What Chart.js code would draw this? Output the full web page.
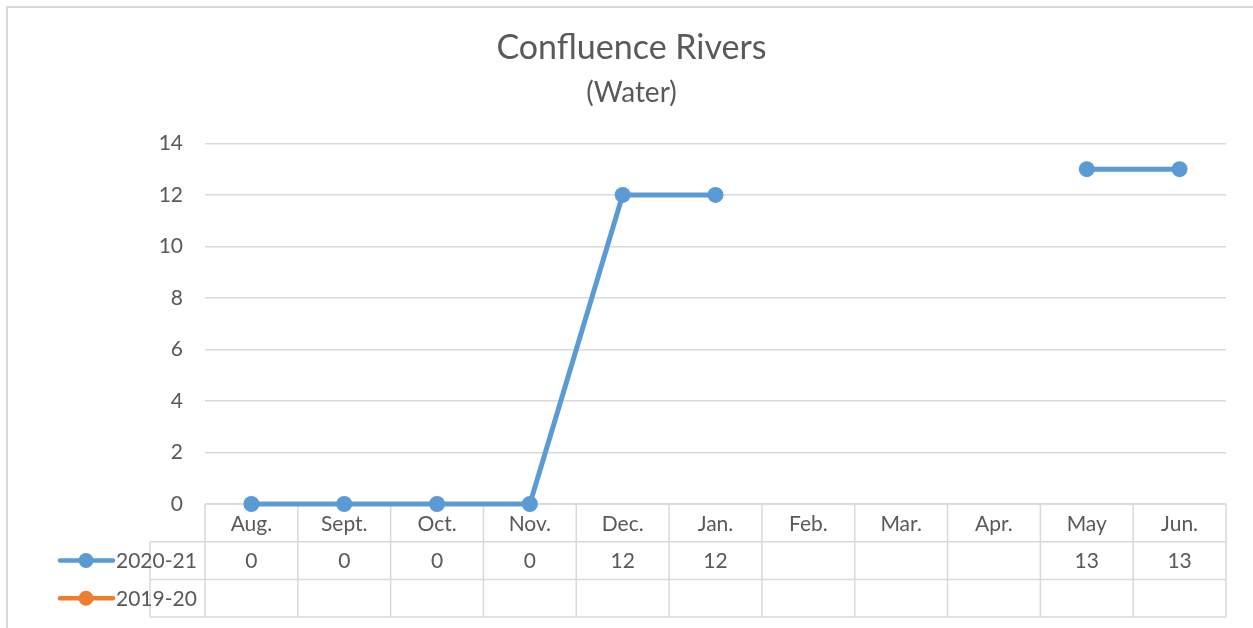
<!DOCTYPE html>
<html>
<head>
<meta charset="utf-8">
<title>Confluence Rivers</title>
<script src="https://cdn.jsdelivr.net/npm/chart.js@4"></script>
<style>
  html, body { margin: 0; padding: 0; background: #fff; overflow: hidden; }
  #frame { position: absolute; left: 6px; top: 6px; width: 1400px; height: 800px; border: 2px solid #d9d9d9; }
  #wrap { position: absolute; left: 0; top: 0; width: 1263px; height: 628px; }
</style>
</head>
<body>
<div id="frame"></div>
<div id="wrap"><canvas id="water-chart"></canvas></div>
<script>
const months = ['Aug.', 'Sept.', 'Oct.', 'Nov.', 'Dec.', 'Jan.', 'Feb.', 'Mar.', 'Apr.', 'May', 'Jun.'];
const water2021 = [0, 0, 0, 0, 12, 12, null, null, null, 13, 13];
const water1920 = [null, null, null, null, null, null, null, null, null, null, null];
const seriesNames = ['2020-21', '2019-20'];
const seriesColors = ['#5b9bd5', '#ed7d31'];

const FONT = 'Lato, "Open Sans", sans-serif';
const TEXT = '#595959';
const GRID = '#d9d9d9';

// data table under the plot, lined up with the category bands
const dataTable = {
  id: 'dataTable',
  beforeDatasetsDraw(chart) {
    const { ctx, chartArea } = chart;
    const x = chart.scales.x;
    const band = (chartArea.right - chartArea.left) / months.length;
    const rowH = 37.7;
    const top = chartArea.bottom;
    const headLeft = 150;
    const rows = [water2021, water1920];

    ctx.save();
    ctx.strokeStyle = GRID;
    ctx.lineWidth = 1.5;
    ctx.beginPath();
    // horizontal rules
    ctx.moveTo(chartArea.left, top);
    ctx.lineTo(chartArea.right, top);
    for (let r = 1; r <= 3; r++) {
      ctx.moveTo(headLeft, top + r * rowH);
      ctx.lineTo(chartArea.right, top + r * rowH);
    }
    // vertical rules
    for (let i = 0; i <= months.length; i++) {
      const xp = chartArea.left + i * band;
      ctx.moveTo(xp, top);
      ctx.lineTo(xp, top + 3 * rowH);
    }
    ctx.moveTo(headLeft, top + rowH);
    ctx.lineTo(headLeft, top + 3 * rowH);
    ctx.stroke();

    ctx.fillStyle = TEXT;
    ctx.font = '21px ' + FONT;
    ctx.textAlign = 'center';
    ctx.textBaseline = 'middle';
    months.forEach((m, i) => {
      ctx.fillText(m, x.getPixelForValue(i), top + rowH / 2 + 1);
    });
    rows.forEach((vals, r) => {
      const yc = top + (r + 1.5) * rowH + 1;
      vals.forEach((v, i) => {
        if (v !== null) ctx.fillText(String(v), x.getPixelForValue(i), yc);
      });
    });

    // series keys in the row headers
    rows.forEach((vals, r) => {
      const yc = top + (r + 1.5) * rowH;
      ctx.strokeStyle = seriesColors[r];
      ctx.lineWidth = 4.5;
      ctx.lineCap = 'round';
      ctx.beginPath();
      ctx.moveTo(60, yc);
      ctx.lineTo(113, yc);
      ctx.stroke();
      ctx.fillStyle = seriesColors[r];
      ctx.beginPath();
      ctx.arc(86, yc, 7.5, 0, Math.PI * 2);
      ctx.fill();
      ctx.fillStyle = TEXT;
      ctx.textAlign = 'left';
      ctx.fillText(seriesNames[r], 116, yc + 1);
    });
    ctx.restore();
  }
};

new Chart(document.getElementById('water-chart'), {
  type: 'line',
  data: {
    labels: months,
    datasets: [
      {
        label: seriesNames[0],
        data: water2021,
        borderColor: seriesColors[0],
        backgroundColor: seriesColors[0],
        borderWidth: 5,
        pointRadius: 8,
        pointHoverRadius: 8,
        pointBorderWidth: 0,
        spanGaps: false,
        tension: 0,
        clip: false
      },
      {
        label: seriesNames[1],
        data: water1920,
        borderColor: seriesColors[1],
        backgroundColor: seriesColors[1],
        borderWidth: 5,
        pointRadius: 8,
        pointBorderWidth: 0,
        clip: false
      }
    ]
  },
  options: {
    responsive: true,
    maintainAspectRatio: false,
    animation: false,
    layout: { padding: 0 },
    plugins: {
      legend: { display: false },
      tooltip: { enabled: false },
      title: {
        display: true,
        text: 'Confluence Rivers',
        color: TEXT,
        font: { family: FONT, size: 34, weight: 'normal' },
        padding: { top: 28, bottom: 2 }
      },
      subtitle: {
        display: true,
        text: '(Water)',
        color: TEXT,
        font: { family: FONT, size: 28, weight: 'normal' },
        padding: { top: 5, bottom: 34 }
      }
    },
    scales: {
      x: {
        type: 'category',
        offset: true,
        grid: { display: false, drawTicks: false },
        border: { display: false },
        ticks: { display: false },
        afterFit(scale) { scale.height = 124; }
      },
      y: {
        min: 0,
        max: 14,
        ticks: {
          stepSize: 2,
          color: TEXT,
          padding: 22,
          font: { family: FONT, size: 21 }
        },
        grid: { color: GRID, lineWidth: 1.5, drawTicks: false },
        border: { display: false },
        afterFit(scale) { scale.width = 205; }
      },
      // empty margin on the right of the plot
      pad: {
        position: 'right',
        grid: { display: false, drawTicks: false },
        border: { display: false },
        ticks: { display: false },
        afterFit(scale) { scale.width = 37; }
      }
    }
  },
  plugins: [dataTable]
});
</script>
</body>
</html>
